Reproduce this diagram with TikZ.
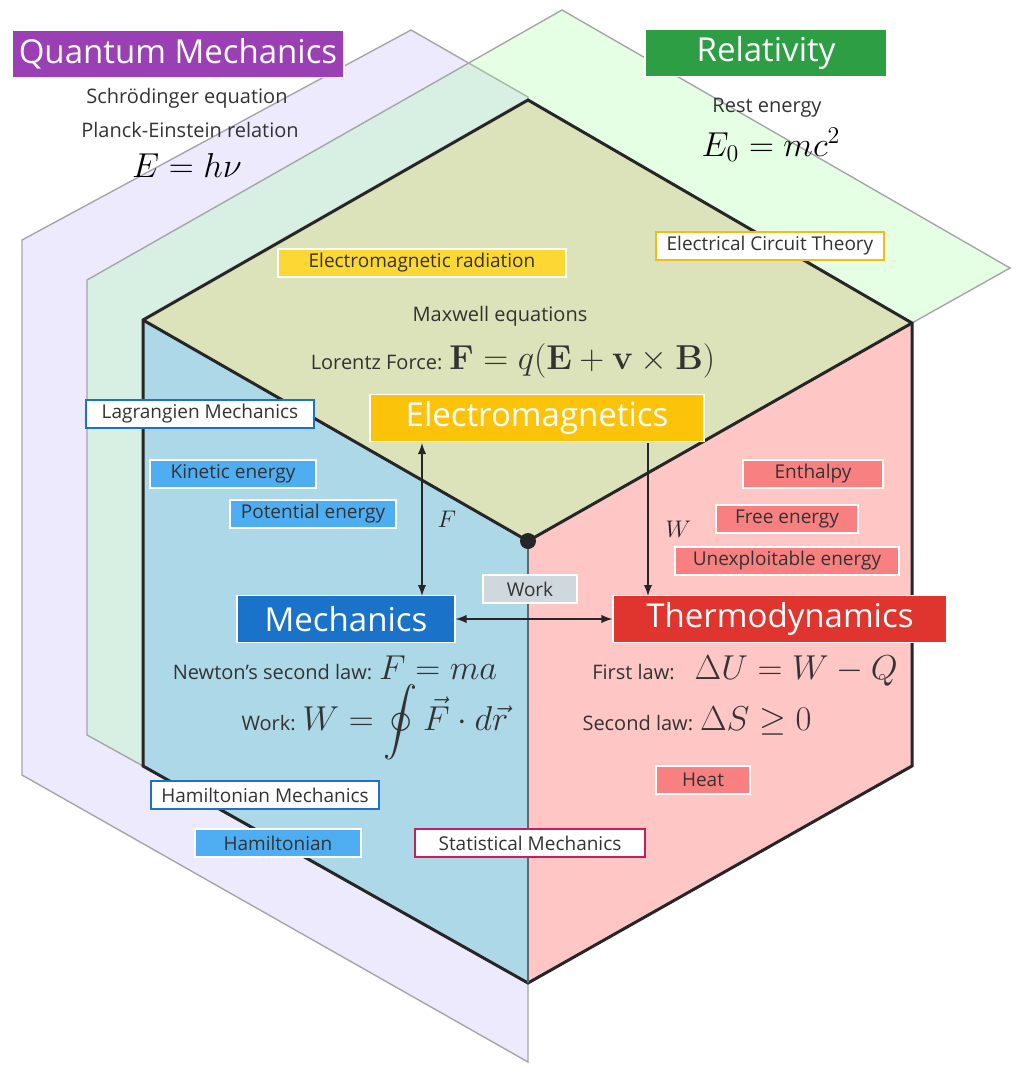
\documentclass[tikz,border=0pt]{standalone}
\usepackage{amsmath,amssymb}
\usepackage[no-math]{fontspec}
\setmainfont{Open Sans}
\begin{document}
\begin{tikzpicture}[x=0.5pt,y=-0.5pt,
  lbl/.style={font=\fontsize{10}{11}\selectfont,text=black!80,inner sep=0},
  tagbox/.style={font=\fontsize{9.5}{10}\selectfont,text=black!80,inner sep=0,draw=white,line width=0.6pt,minimum height=14pt},
  obox/.style={font=\fontsize{9.5}{10}\selectfont,text=black!80,inner sep=0,fill=white,line width=0.6pt,minimum height=14pt},
  bigbox/.style={font=\fontsize{16.5}{17}\selectfont,text=white,inner sep=0,minimum height=23.5pt,draw=white,line width=0.6pt},
  arr/.style={<->,>=latex,line width=0.9pt,black!85}]
\useasboundingbox (0,0) rectangle (1019,1073);
% planes
\fill[fill={rgb,255:red,238;green,234;blue,253},draw=gray!70,line width=0.7pt] (22,240)--(411,30)--(528,97)--(528,1062)--(22,775)--cycle;
\fill[fill=green!40!white,fill opacity=0.25,draw=gray!70,line width=0.7pt] (87,280)--(562,10)--(1010,268)--(912,323)--(528,541)--(143,766)--(87,735)--cycle;
% hexagon faces
\fill[fill={rgb,255:red,220;green,226;blue,185}] (528,100)--(912,323)--(528,541)--(143,320)--cycle;
\fill[fill={rgb,255:red,173;green,216;blue,232}] (143,320)--(528,541)--(528,983)--(143,766)--cycle;
\fill[fill={rgb,255:red,255;green,198;blue,198}] (912,323)--(528,541)--(528,983)--(912,766)--cycle;
\draw[line width=1.5pt,black!85] (528,100)--(912,323)--(912,766)--(528,983)--(143,766)--(143,320)--cycle;
\draw[line width=1.5pt,black!85] (143,320)--(528,541)--(912,323);
\draw[line width=0.8pt,black!60] (528,541)--(528,983);
\node[circle,fill=black!85,inner sep=0,minimum size=8pt] (ctr) at (528,541) {};
% titles
\node[bigbox,fill={rgb,255:red,155;green,63;blue,181},minimum width=166pt] (qm) at (178,54) {Quantum Mechanics};
\node[bigbox,fill={rgb,255:red,46;green,158;blue,68},minimum width=121pt] (rel) at (766,53) {Relativity};
\node[lbl] (sch) at (187,98) {Schrödinger equation};
\node[lbl] (pe) at (190,130) {Planck-Einstein relation};
\node[inner sep=0,font=\fontsize{17}{18}\selectfont] (ehv) at (187,165) {$E=h\nu$};
\node[lbl] (re) at (767,108) {Rest energy};
\node[inner sep=0,font=\fontsize{17}{18}\selectfont] (emc) at (771,145) {$E_0=mc^2$};
% EM
\node[tagbox,fill={rgb,255:red,253;green,216;blue,53},minimum width=144pt] (emr) at (422,263) {Electromagnetic radiation};
\node[obox,draw={rgb,255:red,240;green,190;blue,20},minimum width=114pt] (ect) at (770,246) {Electrical Circuit Theory};
\node[lbl] (max) at (500,316) {Maxwell equations};
\node[inner sep=0] (lor) at (513,361) {\fontsize{10}{11}\selectfont\color{black!80}Lorentz Force: \fontsize{17}{18}\selectfont$\mathbf F = q(\mathbf E+\mathbf v\times\mathbf B)$};
\node[bigbox,fill={rgb,255:red,251;green,196;blue,10},minimum width=167pt] (em) at (537,418) {Electromagnetics};
% mechanics side
\node[obox,draw={rgb,255:red,26;green,115;blue,200},minimum width=114pt] (lag) at (200,414) {Lagrangien Mechanics};
\node[tagbox,fill={rgb,255:red,79;green,174;blue,242},minimum width=83pt] (ke) at (233,474) {Kinetic energy};
\node[tagbox,fill={rgb,255:red,79;green,174;blue,242},minimum width=83pt] (pot) at (313,514) {Potential energy};
\node[bigbox,fill={rgb,255:red,26;green,115;blue,200},minimum width=109pt] (mech) at (346,619) {Mechanics};
\node[inner sep=0] (nsl) at (335,668) {\fontsize{10}{11}\selectfont\color{black!80}Newton's second law: \fontsize{17}{18}\selectfont$F=ma$};
\node[inner sep=0] (wk) at (375,722) {\fontsize{10}{11}\selectfont\color{black!80}Work: \fontsize{17}{18}\selectfont$W=\displaystyle\oint \vec F\cdot d\vec r$};
\node[obox,draw={rgb,255:red,26;green,115;blue,200},minimum width=114pt] (ham) at (265,795) {Hamiltonian Mechanics};
\node[tagbox,fill={rgb,255:red,79;green,174;blue,242},minimum width=83pt] (hm) at (278,843) {Hamiltonian};
% thermo
\node[tagbox,fill={rgb,255:red,249;green,128;blue,128},minimum width=70pt] (ent) at (813,474) {Enthalpy};
\node[tagbox,fill={rgb,255:red,249;green,128;blue,128},minimum width=71pt] (fe) at (787,519) {Free energy};
\node[tagbox,fill={rgb,255:red,249;green,128;blue,128},minimum width=112pt] (ue) at (787,561) {Unexploitable energy};
\node[bigbox,fill={rgb,255:red,224;green,53;blue,47},minimum width=167pt] (th) at (780,619) {Thermodynamics};
\node[inner sep=0] (fl) at (745,671) {\fontsize{10}{11}\selectfont\color{black!80}First law:\quad \fontsize{17}{18}\selectfont$\Delta U = W - Q$};
\node[inner sep=0] (sl) at (697,721) {\fontsize{10}{11}\selectfont\color{black!80}Second law: \fontsize{17}{18}\selectfont$\Delta S\ge 0$};
\node[tagbox,fill={rgb,255:red,249;green,128;blue,128},minimum width=47pt] (heat) at (703,780) {Heat};
\node[obox,draw={rgb,255:red,200;green,30;blue,90},minimum width=115pt] (stat) at (530,843) {Statistical Mechanics};
\node[tagbox,fill={rgb,255:red,207;green,216;blue,220},minimum width=47pt] (work) at (530,589) {Work};
% arrows
\coordinate (fa) at (422,443); \coordinate (fb) at (422,596);
\draw[arr] (fa)--(fb) node[midway,right=4pt,font=\large] {$F$};
\coordinate (wa) at (648,443); \coordinate (wb) at (648,596);
\draw[->,>=latex,line width=0.9pt,black!85] (wa)--(wb) node[midway,right=5pt,font=\large,yshift=-5pt] {$W$};
\draw[arr] (mech.east)--(th.west);
\end{tikzpicture}
\end{document}
